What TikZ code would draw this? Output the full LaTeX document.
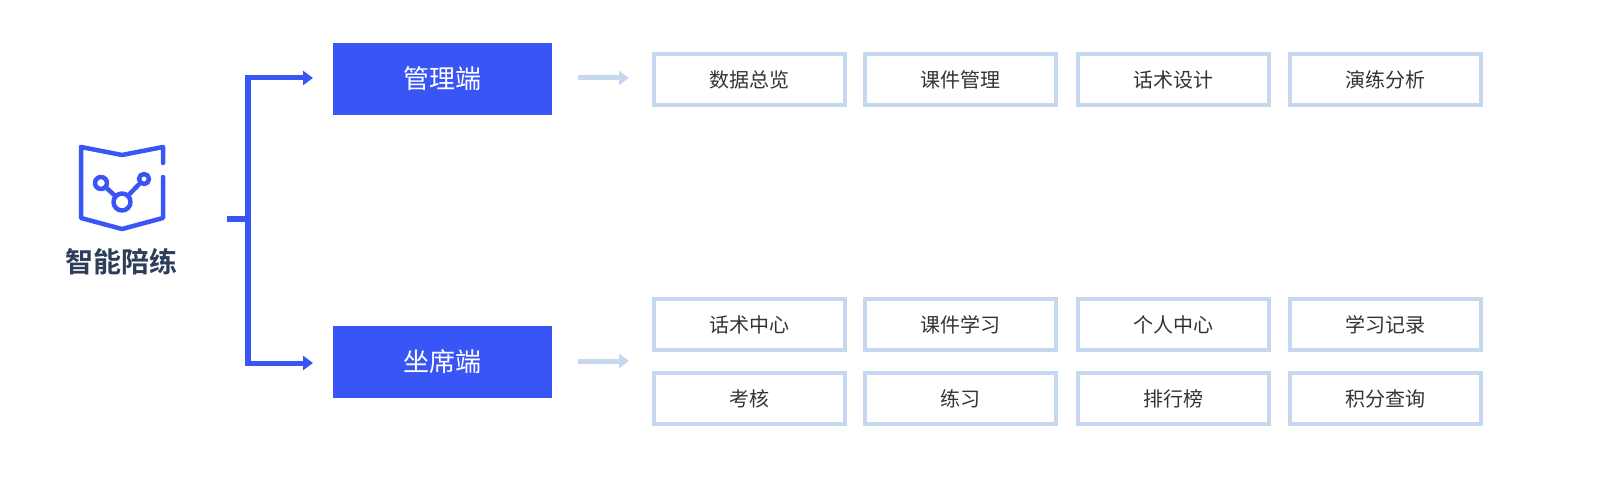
\documentclass[tikz,border=0pt]{standalone}
\usepackage{fontspec}
\setmainfont{Noto Sans CJK SC}
\newfontfamily\cjkb{Noto Sans CJK SC Bold}
\usetikzlibrary{arrows.meta}
\definecolor{mblue}{HTML}{3A55F5}
\definecolor{lblue}{HTML}{C5D8EF}
\definecolor{dtext}{HTML}{2D3E5A}
\begin{document}
\begin{tikzpicture}[x=1pt,y=-1pt,
  main/.style={fill=mblue,text=white,minimum width=219pt,minimum height=72pt,inner sep=0,font=\fontsize{26}{30}\selectfont},
  item/.style={draw=lblue,line width=4pt,minimum width=191pt,minimum height=51pt,inner sep=0,text=black!80,font=\fontsize{20}{24}\selectfont},
  icon/.style={draw=mblue,line width=4.5pt,line cap=round,line join=round},
  barr/.style={draw=mblue,line width=5pt,-{Triangle[length=10pt,width=14pt]}},
  larr/.style={draw=lblue,line width=5pt,-{Triangle[length=10pt,width=14pt]}}]
\useasboundingbox (0,0) rectangle (1623,487);
% icon
\draw[icon] (163,177) -- (163,218) -- (122,229) -- (81,218) -- (81,147) -- (122,155) -- (163,147) -- (163,163);
\node[circle,icon,minimum size=12pt,inner sep=0] (c1) at (101,183) {};
\node[circle,icon,minimum size=10pt,inner sep=0] (c2) at (144,179) {};
\node[circle,icon,minimum size=17pt,inner sep=0] (c3) at (122,202) {};
\draw[icon] (c1) -- (c3) -- (c2);
\node[text=dtext,font=\cjkb\fontsize{28}{32}\selectfont] (root) at (121,262) {智能陪练};
% bracket
\coordinate (stub) at (227,219);
\coordinate (bj) at (248,219);
\coordinate (bt) at (248,78);
\coordinate (bb) at (248,363);
\coordinate (t1) at (313,78);
\coordinate (t2) at (313,363);
\draw[mblue,line width=6pt] (248,75.5) -- (248,365.5);
\draw[mblue,line width=6pt] (stub) -- (bj);
\node[main] (m1) at (442.5,79) {管理端};
\node[main] (m2) at (442.5,361.5) {坐席端};
\draw[barr] (bt) -- (t1);
\draw[barr] (bb) -- (t2);
% light arrows
\coordinate (a1) at (578,78);
\coordinate (a2) at (578,361);
\coordinate (b1) at (629,78);
\coordinate (b2) at (629,361);
\draw[larr] (a1) -- (b1);
\draw[larr] (a2) -- (b2);
% items
\node[item] (i11) at (749.5,79.5) {数据总览};
\node[item] (i12) at (960.5,79.5) {课件管理};
\node[item] (i13) at (1173,79.5) {话术设计};
\node[item] (i14) at (1385,79.5) {演练分析};
\node[item] (i21) at (749.5,324.5) {话术中心};
\node[item] (i22) at (960.5,324.5) {课件学习};
\node[item] (i23) at (1173,324.5) {个人中心};
\node[item] (i24) at (1385,324.5) {学习记录};
\node[item] (i31) at (749.5,398.5) {考核};
\node[item] (i32) at (960.5,398.5) {练习};
\node[item] (i33) at (1173,398.5) {排行榜};
\node[item] (i34) at (1385,398.5) {积分查询};
\end{tikzpicture}
\end{document}
